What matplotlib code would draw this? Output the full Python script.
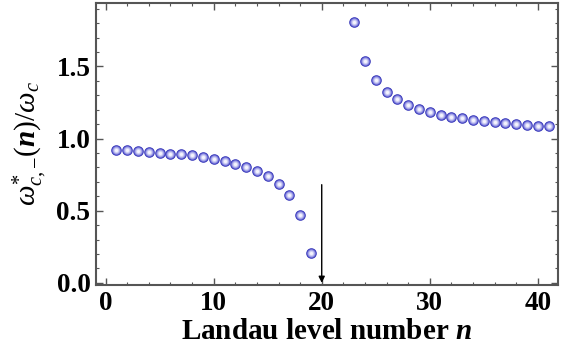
import numpy as np
import matplotlib.pyplot as plt
from matplotlib.ticker import MultipleLocator

plt.rcParams['font.family'] = ['Liberation Serif', 'DejaVu Serif']
plt.rcParams['mathtext.fontset'] = 'custom'
plt.rcParams['mathtext.rm'] = 'Liberation Serif:weight=normal'
plt.rcParams['mathtext.it'] = 'Liberation Serif:style=italic:weight=normal'
plt.rcParams['mathtext.bf'] = 'Liberation Serif:weight=bold'
plt.rcParams['mathtext.bfit'] = 'Liberation Serif:style=italic:weight=bold'

# 데이터
n_low = list(range(1, 20))
w_low = [0.921, 0.921, 0.915, 0.910, 0.903, 0.896, 0.891, 0.885, 0.871, 0.857,
         0.843, 0.824, 0.806, 0.776, 0.741, 0.688, 0.607, 0.468, 0.204]
n_high = list(range(23, 42))
w_high = [1.806, 1.535, 1.403, 1.324, 1.273, 1.234, 1.206, 1.181, 1.165, 1.148,
          1.139, 1.128, 1.123, 1.116, 1.109, 1.102, 1.095, 1.088, 1.088]
arrow_x = 20
arrow_y = (0.68, 0.0)

n_all = n_low + n_high
w_all = w_low + w_high

fig = plt.figure(figsize=(5.78, 3.6), dpi=100)
ax = fig.add_axes([0.166, 0.208, 0.799, 0.784])

# 구 모양 점: 파란 테두리에서 흰 중심으로 겹쳐 그리기
ax.scatter(n_all, w_all, s=58, color='#3434b8', zorder=3, linewidths=0)
shades = ['#6464d2', '#9090e2', '#b6b6ee', '#d8d8f6', '#f4f4fd']
sizes = [42, 31, 21, 12, 5]
for c, s in zip(shades, sizes):
    ax.scatter(n_all, w_all, s=s, color=c, zorder=4, linewidths=0)

ax.annotate('', xy=(arrow_x, arrow_y[1]), xytext=(arrow_x, arrow_y[0]),
            arrowprops=dict(arrowstyle='-|>', color='black', lw=1.0,
                            mutation_scale=9, shrinkA=0, shrinkB=0))

ax.set_xlim(-0.9, 41.85)
ax.set_ylim(-0.016, 1.94)
ax.xaxis.set_major_locator(MultipleLocator(10))
ax.xaxis.set_minor_locator(MultipleLocator(2))
ax.yaxis.set_minor_locator(MultipleLocator(0.1))
ax.set_yticks([0.0, 0.5, 1.0, 1.5])
ax.set_yticklabels(['0.0', '0.5', '1.0', '1.5'])

for sp in ax.spines.values():
    sp.set_color('#555555')
    sp.set_linewidth(1.5)
ax.tick_params(which='both', direction='in', top=True, right=True,
               color='#555555', labelsize=19.5, pad=4)
ax.tick_params(which='major', length=5, width=1)
ax.tick_params(which='minor', length=2.5, width=0.8)
for lab in ax.get_xticklabels() + ax.get_yticklabels():
    lab.set_fontweight('bold')

ax.set_xlabel(r'Landau level number $\mathbfit{n}$', fontsize=21,
              fontweight='bold', labelpad=2)
ax.set_ylabel(r'$\omega^{*}_{c,{-}}(\mathbfit{n})/\omega_c$', fontsize=21,
              labelpad=5)

fig.savefig('out.png', dpi=100)
